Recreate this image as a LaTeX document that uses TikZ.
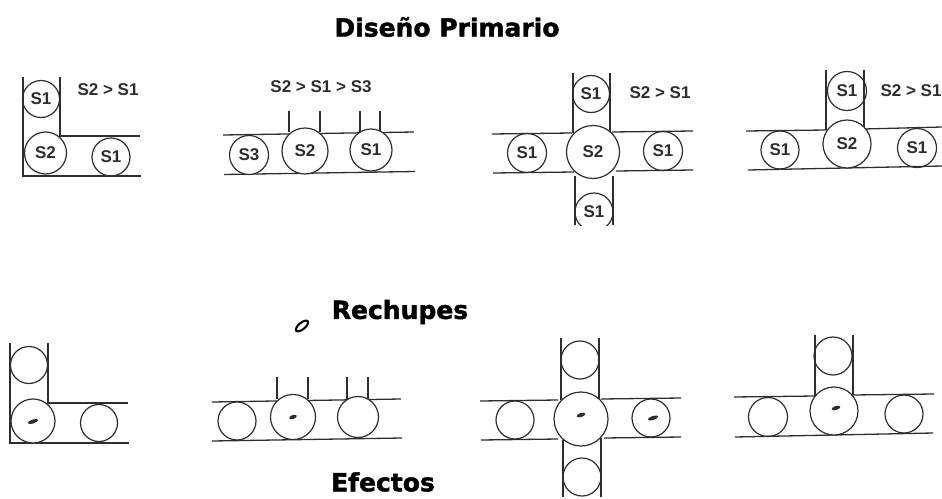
\documentclass[tikz,border=0pt]{standalone}
\usepackage{fontspec}
\setmainfont{Liberation Sans}
\newfontfamily\heavyfont[BoldFeatures={FakeBold=1.6}]{DejaVu Sans}
\definecolor{ink}{HTML}{2E2E2E}
\usetikzlibrary{shapes.geometric}
\tikzset{
  x=1pt,y=-1pt,
  wall/.style={draw=ink,line width=1.3pt},
  cavity/.style={circle,draw=ink,line width=1.2pt,inner sep=0pt,minimum size=#1*2pt,
    font=\fontsize{17}{17}\selectfont\bfseries,text=ink},
  relation/.style={inner sep=0pt,font=\fontsize{17}{17}\selectfont\bfseries,text=ink},
  heading/.style={inner sep=0pt,font=\heavyfont\fontsize{25}{27}\selectfont\bfseries,text=black},
  void/.style={ellipse,fill=ink,inner sep=0pt,minimum width=#1*1pt,minimum height=4pt,rotate=18},
}
\begin{document}
\begin{tikzpicture}
\useasboundingbox (0,0) rectangle (942,498);
% titles
\node[heading] (t1) at (447,27) {Diseño Primario};
\node[heading] (t2) at (400,312) {Rechupes};
\node[heading] (t3) at (383,482) {Efectos};
\node[ellipse,draw=black,line width=2.1pt,fill=white,inner sep=0pt,minimum width=15pt,minimum height=6.5pt,rotate=40] (legend) at (302,326) {};
% ---- top row: L junction
\draw[wall] (23,77) -- (23,176) -- (141,176);
\draw[wall] (60,77) -- (60,136) -- (140,136);
\node[cavity=18.5] (a1) at (41,99) {S1};
\node[cavity=21,fill=white] (a2) at (45.5,153) {S2};
\node[cavity=19] (a3) at (111,157) {S1};
\node[relation] (ar) at (108,90) {S2 > S1};
% ---- top row: run with ticks
\draw[wall] (223,135) -- (414,132);
\draw[wall] (224,174.5) -- (415,171.5);
\foreach \px in {289,320,360,380} \draw[wall] (\px,111) -- (\px,132);
\node[cavity=19.5,fill=white] (b1) at (249,155) {S3};
\node[cavity=23,fill=white] (b2) at (305,151) {S2};
\node[cavity=21,fill=white] (b3) at (371,150) {S1};
\node[relation] (br) at (321,87) {S2 > S1 > S3};
% ---- top row: cross
\draw[wall] (573,73) -- (573,133);
\draw[wall] (610,73) -- (610,132);
\draw[wall] (492,134) -- (572,133);
\draw[wall] (612,132) -- (693,131);
\draw[wall] (493,173) -- (574,172);
\draw[wall] (616,171) -- (693,170);
\draw[wall] (575,176) -- (575,225);
\draw[wall] (613,176) -- (613,225);
\node[cavity=18.5] (c1) at (591,94) {S1};
\node[cavity=26.5,fill=white] (c2) at (593,152) {S2};
\node[cavity=19.5] (c3) at (527,153) {S1};
\node[cavity=19.5] (c4) at (663,151) {S1};
\begin{scope}
\clip (560,180) rectangle (630,225);
\node[cavity=19] (c5) at (594,212) {S1};
\end{scope}
\node[relation] (cr) at (660,93) {S2 > S1};
% ---- top row: tee
\draw[wall] (826,70) -- (826,130);
\draw[wall] (864,70) -- (864,129);
\draw[wall] (746,131) -- (826,130);
\draw[wall] (864,129) -- (942,127);
\draw[wall] (748,170) -- (942,166);
\node[cavity=19.5] (d1) at (847,91) {S1};
\node[cavity=24,fill=white] (d2) at (847,144) {S2};
\node[cavity=19] (d3) at (780,150) {S1};
\node[cavity=19.5] (d4) at (917,148) {S1};
\node[relation] (dr) at (911,91) {S2 > S1};
% ---- bottom row: L junction
\draw[wall] (10,343) -- (10,443) -- (129,443);
\draw[wall] (48,343) -- (48,403) -- (128,403);
\node[cavity=18.5] (e1) at (29,365) {};
\node[cavity=22,fill=white] (e2) at (33,421) {};
\node[cavity=18.5] (e3) at (99,423) {};
\node[void=11] (ev) at (33,421.5) {};
% ---- bottom row: run with ticks
\draw[wall] (212,402) -- (401,399);
\draw[wall] (212,441) -- (402,438);
\foreach \px in {277,308,347,368} \draw[wall] (\px,377) -- (\px,399);
\node[cavity=19,fill=white] (f1) at (237,421) {};
\node[cavity=22.5,fill=white] (f2) at (293,417) {};
\node[cavity=20.5,fill=white] (f3) at (358,417) {};
\node[void=8] (fv) at (293,417) {};
% ---- bottom row: cross
\draw[wall] (561,338) -- (561,400);
\draw[wall] (599,338) -- (599,399);
\draw[wall] (480,401) -- (558,400);
\draw[wall] (601,399) -- (681,398);
\draw[wall] (481,440) -- (558,439);
\draw[wall] (604,438) -- (681,437);
\draw[wall] (563,440) -- (563,497);
\draw[wall] (601,438) -- (601,497);
\node[cavity=19] (g1) at (580,360) {};
\node[cavity=27,fill=white] (g2) at (581,419) {};
\node[cavity=19] (g3) at (515,420) {};
\node[cavity=19] (g4) at (651,418) {};
\node[cavity=19] (g5) at (582,477) {};
\node[void=9] (gv1) at (581,415) {};
\node[void=11] (gv2) at (653,418) {};
% ---- bottom row: tee
\draw[wall] (815,335) -- (815,396);
\draw[wall] (853,335) -- (853,395);
\draw[wall] (734,397) -- (815,396);
\draw[wall] (853,395) -- (934,394);
\draw[wall] (735,437) -- (933,433);
\node[cavity=19] (h1) at (833,356) {};
\node[cavity=24,fill=white] (h2) at (834,411) {};
\node[cavity=19.5] (h3) at (768,417) {};
\node[cavity=19] (h4) at (904,414) {};
\node[void=9] (hv) at (836,408) {};
\end{tikzpicture}
\end{document}
